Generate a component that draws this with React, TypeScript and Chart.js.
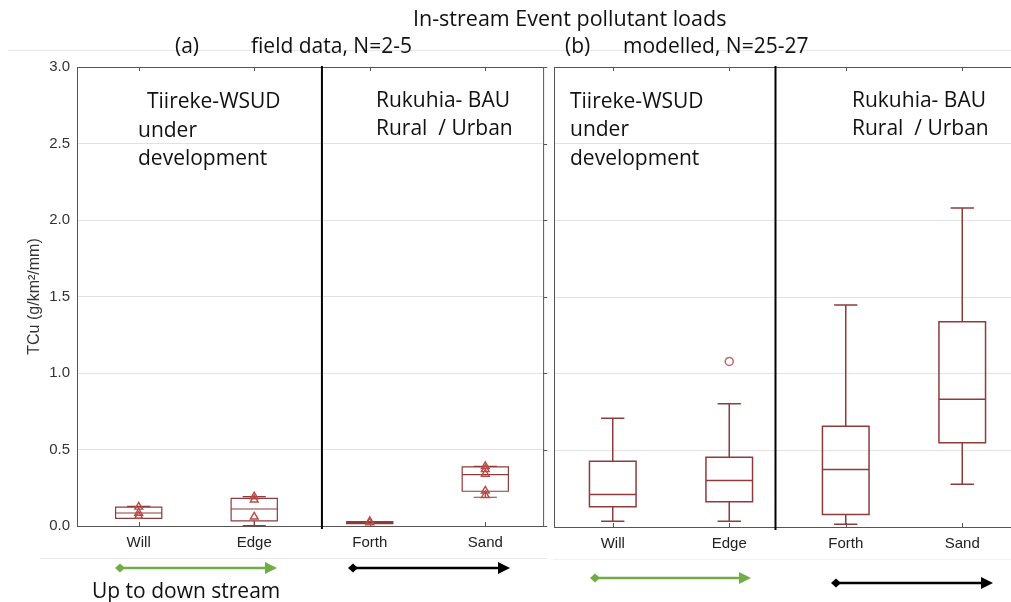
import React, { useEffect, useRef } from 'react';
import { Chart, registerables } from 'chart.js';
Chart.register(...registerables);

const categories = ['Will', 'Edge', 'Forth', 'Sand'];
const yTickValues = [0, 0.5, 1, 1.5, 2, 2.5, 3];
const yAxisTitle = 'TCu (g/km²/mm)';

// (a) field data
const fieldMin = [0.05, 0.003, 0.018, 0.188];
const fieldQ1 = [0.05, 0.033, 0.016, 0.227];
const fieldMedian = [0.085, 0.111, 0.022, 0.336];
const fieldQ3 = [0.124, 0.181, 0.028, 0.386];
const fieldMax = [0.128, 0.192, 0.028, 0.39];
const fieldPoints = [
  [0.125, 0.085, 0.065],
  [0.192, 0.172, 0.06],
  [0.03, 0.022],
  [0.39, 0.37, 0.34, 0.23, 0.2],
];

// (b) modelled
const modelMin = [0.038, 0.038, 0.018, 0.279];
const modelQ1 = [0.132, 0.164, 0.081, 0.55];
const modelMedian = [0.212, 0.303, 0.375, 0.833];
const modelQ3 = [0.429, 0.455, 0.657, 1.339];
const modelMax = [0.709, 0.803, 1.448, 2.081];
const modelOutliers = [[], [1.08], [], []];

const BOX = '#8e3b3b';
const FONT = '"Open Sans", sans-serif';
const AXFONT = '"Liberation Sans", Arial, sans-serif';

const boxPlugin = {
  id: 'boxPlot',
  beforeDatasetsDraw(chart: any, _args: any, opts: any) {
    const { ctx, chartArea } = chart;
    const xs = chart.scales.x;
    const ys = chart.scales.y;
    const s = opts.stats;
    ctx.save();
    ctx.strokeStyle = '#555';
    ctx.lineWidth = 1;
    ctx.beginPath();
    ctx.moveTo(chartArea.left, chartArea.top + 0.5);
    ctx.lineTo(chartArea.right, chartArea.top + 0.5);
    if (opts.rightBorder) {
      ctx.moveTo(chartArea.right - 0.5, chartArea.top);
      ctx.lineTo(chartArea.right - 0.5, chartArea.bottom);
      yTickValues.forEach((v) => {
        const y = Math.round(ys.getPixelForValue(v)) + 0.5;
        ctx.moveTo(chartArea.right - 0.5, y);
        ctx.lineTo(chartArea.right + 3, y);
      });
    }
    categories.forEach((_c, i) => {
      const x = Math.round(xs.getPixelForValue(i)) + 0.5;
      ctx.moveTo(x, chartArea.top);
      ctx.lineTo(x, chartArea.top + 4);
      ctx.moveTo(x, chartArea.bottom);
      ctx.lineTo(x, chartArea.bottom - 4);
    });
    ctx.stroke();
    const dx = xs.getPixelForValue(opts.divider);
    ctx.strokeStyle = '#000';
    ctx.lineWidth = 2;
    ctx.beginPath();
    ctx.moveTo(dx, chartArea.top - 1);
    ctx.lineTo(dx, chartArea.bottom + 3);
    ctx.stroke();
    ctx.strokeStyle = BOX;
    ctx.lineWidth = opts.lineWidth;
    categories.forEach((_c, i) => {
      const xl = xs.getPixelForValue(i - opts.boxWidth / 2);
      const xr = xs.getPixelForValue(i + opts.boxWidth / 2);
      const xc = xs.getPixelForValue(i);
      const cl = xs.getPixelForValue(i - opts.capWidth / 2);
      const cr = xs.getPixelForValue(i + opts.capWidth / 2);
      const yMin = ys.getPixelForValue(s.min[i]);
      const yQ1 = ys.getPixelForValue(s.q1[i]);
      const yMed = ys.getPixelForValue(s.median[i]);
      const yQ3 = ys.getPixelForValue(s.q3[i]);
      const yMax = ys.getPixelForValue(s.max[i]);
      ctx.beginPath();
      ctx.moveTo(xc, yQ3);
      ctx.lineTo(xc, yMax);
      ctx.moveTo(cl, yMax);
      ctx.lineTo(cr, yMax);
      ctx.moveTo(xc, yQ1);
      ctx.lineTo(xc, yMin);
      ctx.moveTo(cl, yMin);
      ctx.lineTo(cr, yMin);
      ctx.rect(xl, yQ3, xr - xl, yQ1 - yQ3);
      ctx.moveTo(xl, yMed);
      ctx.lineTo(xr, yMed);
      ctx.stroke();
    });
    ctx.restore();
  },
};

function makeConfig(p: any) {
  return {
    type: 'scatter',
    data: { datasets: p.datasets },
    plugins: [boxPlugin],
    options: {
      animation: false,
      responsive: false,
      devicePixelRatio: 1,
      layout: { padding: p.padding },
      plugins: {
        legend: { display: false },
        tooltip: { enabled: false },
        boxPlot: p.box,
      },
      scales: {
        x: {
          type: 'linear',
          min: p.xMin,
          max: p.xMax,
          afterBuildTicks: (sc: any) => {
            sc.ticks = categories.map((_c, i) => ({ value: i }));
          },
          afterFit: (sc: any) => {
            sc.height = 40;
          },
          ticks: {
            autoSkip: false,
            maxRotation: 0,
            padding: 8,
            color: '#222',
            font: { family: AXFONT, size: 15 },
            callback: (v: number) => categories[Math.round(v)],
          },
          grid: { display: false, drawTicks: false },
          border: { display: true, color: '#555', width: 1 },
        },
        y: {
          min: 0,
          max: 3,
          afterBuildTicks: (sc: any) => {
            sc.ticks = yTickValues.map((v) => ({ value: v }));
          },
          afterFit: (sc: any) => {
            sc.width = p.yWidth;
          },
          ticks: {
            display: p.showY,
            padding: 7,
            color: '#333',
            font: { family: AXFONT, size: 15 },
            callback: (v: number) => v.toFixed(1),
          },
          title: {
            display: p.showY,
            text: yAxisTitle,
            color: '#333',
            font: { family: AXFONT, size: 16 },
            padding: { top: 25, bottom: 0 },
          },
          grid: {
            drawTicks: false,
            color: (c: any) =>
              c.tick && (c.tick.value === 0 || c.tick.value === 3) ? 'rgba(0,0,0,0)' : '#e2e2e2',
          },
          border: { display: true, color: '#555', width: 1 },
        },
      },
    },
  };
}

function Panel(props: any) {
  const ref = useRef<HTMLCanvasElement>(null);
  useEffect(() => {
    const chart = new Chart(ref.current as any, makeConfig(props.cfg) as any);
    return () => chart.destroy();
  }, []);
  return (
    <canvas
      ref={ref}
      width={props.width}
      height={602}
      style={{ position: 'absolute', left: props.left, top: 0, width: props.width, height: 602 }}
    />
  );
}

const triangleData = fieldPoints.flatMap((arr, i) => arr.map((v) => ({ x: i, y: v })));
const outlierData = modelOutliers.flatMap((arr, i) => arr.map((v) => ({ x: i, y: v })));

const cfgA = {
  datasets: [
    {
      data: triangleData,
      pointStyle: 'triangle',
      pointRadius: 4.5,
      borderColor: '#b94a48',
      backgroundColor: 'rgba(0,0,0,0)',
      borderWidth: 1.4,
    },
  ],
  padding: { left: 0, right: 2, top: 67, bottom: 36 },
  xMin: -0.534,
  xMax: 3.509,
  yWidth: 77,
  showY: true,
  box: {
    stats: { min: fieldMin, q1: fieldQ1, median: fieldMedian, q3: fieldQ3, max: fieldMax },
    boxWidth: 0.4,
    capWidth: 0.2,
    lineWidth: 1.2,
    divider: 1.586,
    rightBorder: true,
  },
};

const cfgB = {
  datasets: [
    {
      data: outlierData,
      pointStyle: 'circle',
      pointRadius: 4,
      borderColor: '#c06464',
      backgroundColor: 'rgba(0,0,0,0)',
      borderWidth: 1.5,
    },
  ],
  padding: { left: 0, right: 0, top: 67, bottom: 35 },
  xMin: -0.5,
  xMax: 3.44,
  yWidth: 4,
  showY: false,
  box: {
    stats: { min: modelMin, q1: modelQ1, median: modelMedian, q3: modelQ3, max: modelMax },
    boxWidth: 0.4,
    capWidth: 0.2,
    lineWidth: 1.5,
    divider: 1.397,
    rightBorder: false,
  },
};

function Txt(props: any) {
  const size = props.size || 21;
  return (
    <div
      style={{
        position: 'absolute',
        left: props.x,
        top: props.y - size * 0.7,
        fontFamily: FONT,
        fontSize: size,
        lineHeight: 1.4,
        whiteSpace: 'pre',
        color: '#111',
      }}
    >
      {props.t}
    </div>
  );
}

function Arrow(props: any) {
  const { x1, x2, y, color } = props;
  return (
    <g>
      <line x1={x1} y1={y} x2={x2 - 8} y2={y} stroke={color} strokeWidth={2.5} />
      <polygon points={`${x1 - 5},${y} ${x1},${y - 4.5} ${x1 + 5},${y} ${x1},${y + 4.5}`} fill={color} />
      <polygon points={`${x2 - 12},${y - 6} ${x2},${y} ${x2 - 12},${y + 6}`} fill={color} />
    </g>
  );
}

export default function App() {
  return (
    <div style={{ position: 'absolute', left: 0, top: 0, width: 1011, height: 602, background: '#fff', overflow: 'hidden' }}>
      <div style={{ position: 'absolute', left: 8, top: 50, width: 1003, height: 1, background: '#e6e6e6' }} />
      <Panel cfg={cfgA} left={0} width={550} />
      <Panel cfg={cfgB} left={549} width={470} />
      <div style={{ position: 'absolute', left: 40, top: 558, width: 506, height: 1, background: '#e6e6e6' }} />
      <div style={{ position: 'absolute', left: 553, top: 559, width: 458, height: 1, background: '#f2f2f2' }} />
      <Txt t="In-stream Event pollutant loads" x={413} y={18} size={21.5} />
      <Txt t="(a)" x={175} y={46} />
      <Txt t="field data, N=2-5" x={251} y={46} />
      <Txt t="(b)" x={565} y={46} />
      <Txt t="modelled, N=25-27" x={623} y={46} />
      <Txt t="Tiireke-WSUD" x={147} y={101} />
      <Txt t="under" x={138} y={130} />
      <Txt t="development" x={138} y={158} />
      <Txt t="Rukuhia- BAU" x={376} y={100} />
      <Txt t="Rural  / Urban" x={376} y={128} />
      <Txt t="Tiireke-WSUD" x={570} y={101} />
      <Txt t="under" x={570} y={129} />
      <Txt t="development" x={570} y={158} />
      <Txt t="Rukuhia- BAU" x={852} y={100} />
      <Txt t="Rural  / Urban" x={852} y={128} />
      <Txt t="Up to down stream" x={92} y={591} />
      <svg width={1011} height={602} style={{ position: 'absolute', left: 0, top: 0, pointerEvents: 'none' }}>
        <Arrow x1={120} x2={277} y={568} color="#70ad47" />
        <Arrow x1={353} x2={510} y={568} color="#000" />
        <Arrow x1={595} x2={751} y={578} color="#70ad47" />
        <Arrow x1={836} x2={993} y={583} color="#000" />
      </svg>
    </div>
  );
}
